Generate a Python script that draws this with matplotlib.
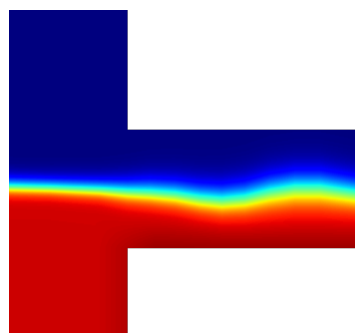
import matplotlib
matplotlib.use("Agg")
import matplotlib.pyplot as plt
import numpy as np

# T-shaped channel (pixel-like units, y downwards)
X0, X_STEM, X1 = 9, 127, 355
Y_TOP, Y_BR_TOP, Y_BR_BOT, Y_BOT = 10, 130, 248, 333

# interface: station x, centre y, thickness above / below
iface_x = [9, 50, 100, 127, 150, 175, 200, 222, 245, 270, 295, 320, 355]
iface_c = [187, 188, 190, 192, 193, 195, 199, 201, 199, 193, 189, 189, 194]
w_up = [11, 11, 12, 14, 16, 17, 18, 19, 20, 21, 21, 21, 20]
w_dn = [8, 8, 9, 11, 12, 13, 14, 15, 16, 18, 19, 19, 17]

# level of the lower (red) fluid, rising toward the branch floor
red_y = [205, 225, 248]
red_v = [0.925, 0.94, 0.975]
STEM_RED = 0.93

xx = np.arange(X0, X1 + 1, 1.0)
yy = np.arange(Y_TOP, Y_BOT + 1, 1.0)
X, Y = np.meshgrid(xx, yy)

c = np.interp(X, iface_x, iface_c)
wu = np.interp(X, iface_x, w_up)
wd = np.interp(X, iface_x, w_dn)
u = np.where(Y < c, (Y - c) / wu, (Y - c) / wd)
blend = np.clip((X - 95) / 60, 0, 1)
lo = STEM_RED + (np.interp(Y, red_y, red_v) - STEM_RED) * blend
field = lo * 0.5 * (1 + np.tanh(u))

inside = (X <= X_STEM) | ((Y >= Y_BR_TOP) & (Y <= Y_BR_BOT))
field = np.ma.masked_where(~inside, field)

fig = plt.figure(figsize=(3.55, 3.33), dpi=100)
ax = fig.add_axes([0, 0, 1, 1])
ax.imshow(field, cmap="jet", vmin=0, vmax=1, origin="upper",
          extent=[X0, X1, Y_BOT, Y_TOP], interpolation="bilinear", aspect="auto")
ax.set_xlim(0, 355)
ax.set_ylim(333, 0)
ax.axis("off")
fig.savefig("out.png", dpi=100)
